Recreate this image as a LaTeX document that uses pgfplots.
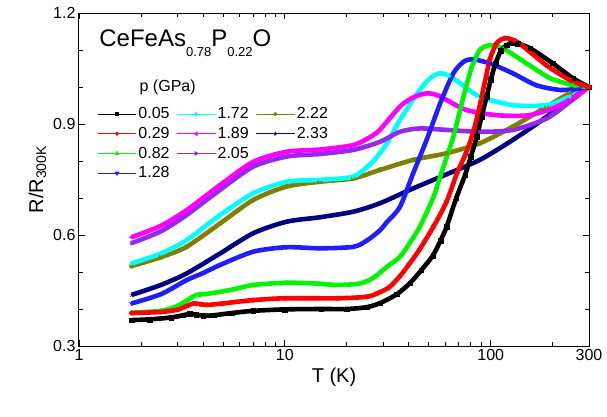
\documentclass[border=0pt]{standalone}
\usepackage{fontspec}
\setmainfont{Liberation Sans}
\usepackage{pgfplots}
\usepackage{pgfplotstable}
\pgfplotsset{compat=1.18}

\definecolor{cgreen}{RGB}{0,245,0}
\definecolor{cblue}{RGB}{30,30,255}
\definecolor{ccyan}{RGB}{0,255,255}
\definecolor{cmag}{RGB}{255,0,255}
\definecolor{cpurp}{RGB}{150,40,240}
\definecolor{colive}{RGB}{128,128,0}
\definecolor{cnavy}{RGB}{0,0,128}

% p = 0.05 GPa
\pgfplotstableread{
T R
1.8 0.370
2.2 0.372
2.8 0.377
3.2 0.383
3.45 0.387
3.7 0.385
4.0 0.382
4.5 0.383
5.5 0.389
7 0.395
10 0.399
15 0.400
20 0.400
25 0.405
29 0.416
35 0.440
40.5 0.470
46 0.505
52.4 0.545
57 0.585
61 0.622
68 0.700
75 0.762
80 0.812
85.6 0.866
90 0.918
95.5 0.974
100 1.020
105.5 1.064
112 1.098
119.6 1.113
126 1.119
135 1.117
155 1.105
200 1.064
250 1.024
300 1.000
}\pa
% p = 0.29 GPa
\pgfplotstableread{
T R
1.8 0.389
2.5 0.392
3.0 0.398
3.4 0.410
3.6 0.415
3.9 0.413
4.2 0.411
5 0.415
7 0.424
10 0.429
18 0.429
25 0.433
28 0.442
32 0.458
36 0.487
40 0.520
45 0.560
52.6 0.622
61 0.690
68.5 0.767
75 0.815
81 0.866
86 0.920
90.3 0.974
95 1.030
99 1.075
106.6 1.118
117 1.132
130 1.126
143 1.111
187 1.058
242 1.019
300 1.000
}\pb
% p = 0.82 GPa
\pgfplotstableread{
T R
1.8 0.390
2.5 0.395
3.0 0.408
3.5 0.430
3.73 0.438
4.33 0.442
5.5 0.452
7.03 0.465
10.2 0.471
14 0.469
17.9 0.465
23.2 0.469
27 0.485
31.3 0.514
36.2 0.541
40 0.575
45.2 0.622
52.7 0.703
56.8 0.758
61 0.810
65.8 0.866
73.7 0.974
81 1.055
88.5 1.100
99 1.113
115 1.104
149 1.064
194 1.024
251 1.005
300 1.000
}\pc
% p = 1.28 GPa
\pgfplotstableread{
T R
1.8 0.415
2.5 0.440
3.33 0.478
4.0 0.497
4.84 0.519
7.03 0.555
10.2 0.567
14.8 0.564
21.5 0.568
25 0.585
29 0.613
31.3 0.635
36.2 0.676
42 0.767
48.8 0.857
56.8 0.956
65.8 1.037
73.7 1.068
81 1.075
99 1.064
128 1.037
166 1.005
217 0.992
270 0.996
300 1.000
}\pd
% p = 1.72 GPa
\pgfplotstableread{
T R
1.8 0.523
2.5 0.550
3.33 0.586
4.84 0.654
7.03 0.713
10.2 0.744
14.8 0.749
21.5 0.758
26.9 0.800
31.3 0.848
36.2 0.911
45.2 0.992
51 1.025
56.8 1.037
63 1.030
71 1.010
88.5 0.974
128 0.951
187 0.951
242 0.974
300 1.000
}\pe
% p = 1.89 GPa
\pgfplotstableread{
T R
1.8 0.594
2.5 0.625
3.33 0.667
4.84 0.735
7.03 0.798
10.2 0.825
14.8 0.831
21.5 0.843
26 0.865
29 0.885
36.2 0.947
42 0.972
48.8 0.983
55 0.978
61 0.965
76 0.938
106 0.924
155 0.924
217 0.951
300 1.000
}\pf
% p = 2.05 GPa
\pgfplotstableread{
T R
1.8 0.578
2.5 0.610
3.33 0.654
4.84 0.722
7.03 0.785
10.2 0.812
14.8 0.819
21.5 0.830
29 0.852
36.2 0.879
45.2 0.888
61 0.884
88.5 0.879
128 0.884
187 0.915
242 0.960
300 1.000
}\pg
% p = 2.22 GPa
\pgfplotstableread{
T R
1.8 0.516
2.5 0.540
3.33 0.568
4.84 0.631
7.03 0.695
10.2 0.731
14.8 0.744
21.5 0.753
29 0.776
42 0.803
61 0.821
88.5 0.848
128 0.893
187 0.947
242 0.983
300 1.000
}\ph
% p = 2.33 GPa
\pgfplotstableread{
T R
1.8 0.438
2.5 0.465
3.33 0.496
4.84 0.550
7.03 0.605
10.2 0.636
14.8 0.648
21.5 0.663
29 0.686
42 0.726
61 0.764
88.5 0.803
128 0.857
187 0.920
242 0.974
300 1.000
}\pi

\begin{document}
\begin{tikzpicture}
\begin{semilogxaxis}[
    scale only axis,
    width=510pt, height=333pt,
    xmin=1, xmax=300, ymin=0.3, ymax=1.2,
    xtick={1,10,100,300},
    xticklabels={1,10,100,300},
    minor xtick={2,3,4,5,6,7,8,9,20,30,40,50,60,70,80,90,200},
    ytick={0.3,0.6,0.9,1.2},
    minor ytick={0.4,0.5,0.7,0.8,1.0,1.1},
    yticklabel style={/pgf/number format/.cd, fixed, fixed zerofill, precision=1},
    /pgf/number format/assume math mode=true,
    tick align=inside,
    major tick length=6pt, minor tick length=4pt,
    axis line style={line width=1pt},
    every tick/.style={line width=0.8pt, black},
    ticklabel style={font=\fontsize{16}{19}\selectfont},
    xlabel={T (K)}, ylabel={R/R\textsubscript{300K}},
    label style={font=\fontsize{20}{24}\selectfont},
    legend columns=3,
    legend style={at={(rel axis cs:0.03,0.728)}, anchor=north west, draw=none, fill=none,
        font=\fontsize{16}{18}\selectfont,
        /tikz/every even column/.append style={column sep=5pt},
        /tikz/row sep=3pt},
    legend image code/.code={\draw[mark repeat=2,mark phase=2,#1] plot coordinates {(0pt,0pt) (19pt,0pt) (38pt,0pt)};},
    every axis plot/.append style={smooth, tension=0.45, line width=4.6pt, mark size=2.3pt, forget plot},
]
\addplot[colive, mark=*, mark options={line width=0.3pt}] table {\ph};
\addplot[cnavy, mark=star, mark options={line width=0.3pt}] table {\pi};
\addplot[ccyan, mark=diamond*, mark options={line width=0.3pt}] table {\pe};
\addplot[cpurp, mark=triangle*, mark options={rotate=-90, line width=0.3pt}] table {\pg};
\addplot[cmag, mark=triangle*, mark options={rotate=90, line width=0.3pt}] table {\pf};
\addplot[cblue, mark=triangle*, mark options={rotate=180, line width=0.3pt}] table {\pd};
\addplot[cgreen, mark=triangle*, mark options={line width=0.3pt}] table {\pc};
\addplot[black, mark=square*, mark options={line width=0.3pt}] table {\pa};
\addplot[red, mark=*, mark options={line width=0.3pt}] table {\pb};

\addlegendimage{black, line width=1pt, mark=square*, mark size=1.5pt}
\addlegendentry{0.05}
\addlegendimage{ccyan, line width=1pt, mark=diamond*, mark size=1.8pt}
\addlegendentry{1.72}
\addlegendimage{colive, line width=1pt, mark=*, mark size=1.5pt}
\addlegendentry{2.22}
\addlegendimage{red, line width=1pt, mark=*, mark size=1.5pt}
\addlegendentry{0.29}
\addlegendimage{cmag, line width=1pt, mark=triangle*, mark size=1.8pt, mark options={rotate=90}}
\addlegendentry{1.89}
\addlegendimage{cnavy, line width=1pt, mark=star, mark size=1.8pt}
\addlegendentry{2.33}
\addlegendimage{cgreen, line width=1pt, mark=triangle*, mark size=1.8pt}
\addlegendentry{0.82}
\addlegendimage{cpurp, line width=1pt, mark=triangle*, mark size=1.8pt, mark options={rotate=-90}}
\addlegendentry{2.05}
\addlegendimage{empty legend}
\addlegendentry{}
\addlegendimage{cblue, line width=1pt, mark=triangle*, mark size=1.8pt, mark options={rotate=180}}
\addlegendentry{1.28}

\node[anchor=base west, font=\fontsize{24}{28}\selectfont] at (rel axis cs:0.033,0.898)
    {CeFeAs\raisebox{-10pt}{\fontsize{13}{15}\selectfont 0.78}P\raisebox{-10pt}{\fontsize{13}{15}\selectfont 0.22}O};
\node[anchor=west, font=\fontsize{16}{18}\selectfont] at (rel axis cs:0.112,0.776) {p (GPa)};
\end{semilogxaxis}
\pgfresetboundingbox
\path[use as bounding box] (current axis.south west) ++(-79pt,-70pt) rectangle ++(607pt,416pt);
\end{tikzpicture}
\end{document}
